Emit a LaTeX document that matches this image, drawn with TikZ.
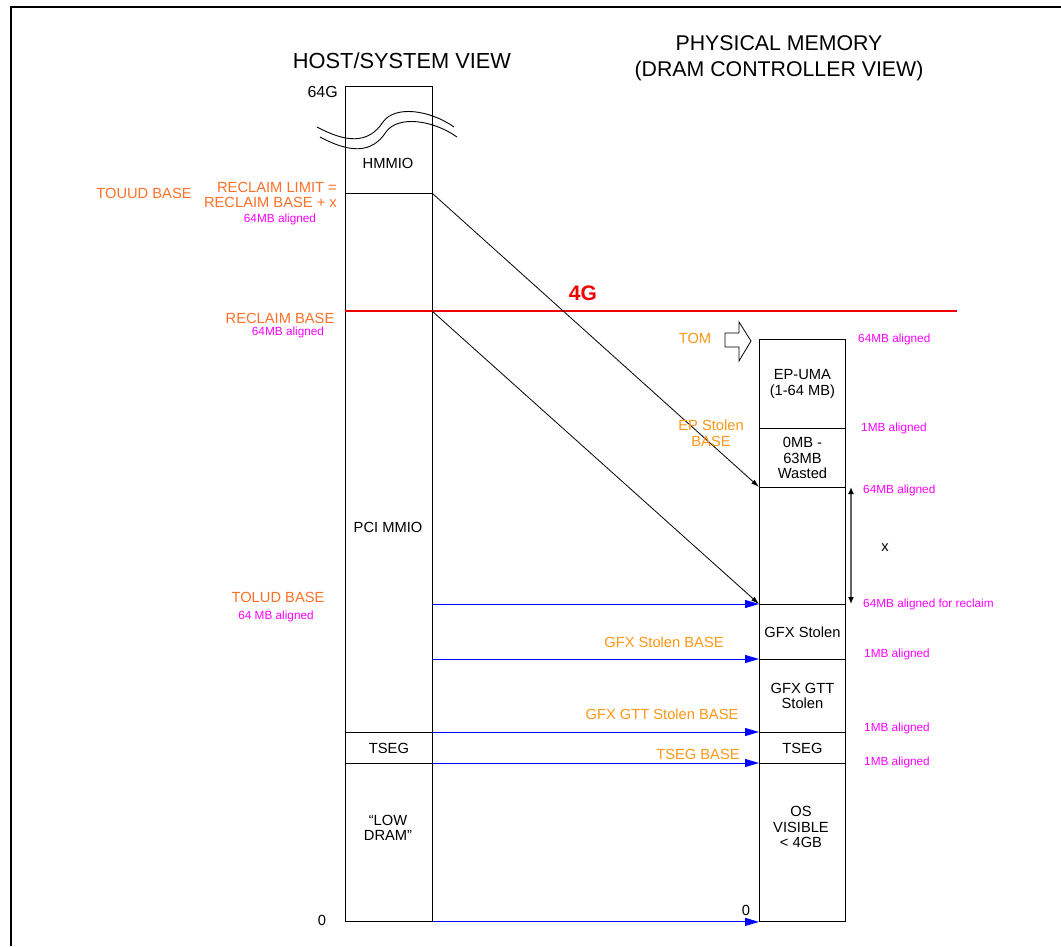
\documentclass[tikz,border=0pt]{standalone}
\usepackage{fontspec}
\setmainfont{Liberation Sans}
\usetikzlibrary{arrows.meta}
\definecolor{orL}{RGB}{255,112,40}
\definecolor{orR}{RGB}{255,150,20}
\definecolor{magc}{RGB}{255,0,255}
\definecolor{bluec}{RGB}{0,0,255}
\definecolor{redc}{RGB}{240,0,0}
\definecolor{grayc}{RGB}{100,100,100}
\begin{document}
\begin{tikzpicture}[x=1pt,y=-1pt,
  sec/.style={draw, line width=0.9, minimum width=#1, inner sep=0, anchor=north west},
  txt/.style={font=\fontsize{14.7}{15.5}\selectfont, inner sep=0, align=center},
  hdr/.style={font=\fontsize{21.3}{26}\selectfont, inner sep=0, align=center},
  orlab/.style={txt, text=orL},
  orrab/.style={txt, text=orR},
  mag/.style={font=\fontsize{11.8}{13}\selectfont, inner sep=0, text=magc},
  bluearr/.style={draw=bluec, line width=0.9, -{Triangle[length=14,width=8,fill=bluec]}},
  blkarr/.style={draw=black, line width=0.8, -{Latex[length=8,width=5]}},
  ]
\useasboundingbox (0,0) rectangle (1061,946);
\draw[line width=2.2] (11,946) -- (11,7) -- (1061,7);

% headers
\node[hdr, font=\fontsize{21.8}{26}\selectfont] (h1) at (402,61) {HOST/SYSTEM VIEW};
\node[hdr] (h2) at (779,58) {PHYSICAL MEMORY\\(DRAM CONTROLLER VIEW)};

% left column
\node[sec=87, minimum height=107] (l1) at (345,86) {};
\node[sec=87, minimum height=539] (l2) at (345,193) {};
\node[sec=87, minimum height=31, txt] (l3) at (345,732) {TSEG};
\node[sec=87, minimum height=158] (l4) at (345,763) {};
\node[txt] (thm) at (388,163) {HMMIO};
\node[txt] (tpci) at (388,527) {PCI MMIO};
\node[txt] (tlow) at (388,828) {“LOW\\DRAM”};
\node[txt, font=\fontsize{16}{17}\selectfont, anchor=east] (t64g) at (338,92) {64G};
\node[txt] (t0l) at (322,920) {0};

% break curves
\draw[line width=0.9] (317,127) .. controls (345,142) and (368,145) .. (383,122)
   .. controls (395,105) and (430,110) .. (454,127);
\draw[line width=0.9] (320,137) .. controls (348,152) and (371,155) .. (386,132)
   .. controls (398,115) and (433,120) .. (457,137);

% right column
\node[sec=86, minimum height=89, txt] (r1) at (759,339) {EP-UMA\\(1-64 MB)};
\node[sec=86, minimum height=59, txt] (r2) at (759,428) {0MB -\\63MB\\Wasted};
\node[sec=86, minimum height=117] (r3) at (759,487) {};
\node[sec=86, minimum height=55, txt] (r4) at (759,604) {GFX Stolen};
\node[sec=86, minimum height=73, txt] (r5) at (759,659) {GFX GTT\\Stolen};
\node[sec=86, minimum height=31, txt] (r6) at (759,732) {TSEG};
\node[sec=86, minimum height=158] (r7) at (759,763) {};
\node[txt] (tos) at (801,827) {OS\\VISIBLE\\< 4GB};

% 4G line
\coordinate (rbl) at (345,311);
\coordinate (rbm) at (432,311);
\coordinate (rbr) at (957,311);
\draw[redc, line width=1.8] (rbl) -- (rbr);
\node[font=\bfseries\fontsize{21}{22}\selectfont, text=redc, inner sep=0] (t4g) at (583,293) {4G};

% diagonal arrows
\draw[blkarr] (l1.south east) -- (r3.north west);
\draw[blkarr] (rbm) -- (r4.north west);

% blue arrows
\draw[bluearr] (l2.east |- r4.north west) -- (r4.north west);
\draw[bluearr] (l2.east |- r5.north west) -- (r5.north west);
\draw[bluearr] (l2.east |- r6.north west) -- (r6.north west);
\draw[bluearr] (l2.east |- r7.north west) -- (r7.north west);
\draw[bluearr] (l4.south east) -- (r7.south west);

% vertical double arrow
\coordinate (va) at (851,487);
\coordinate (vb) at (851,604);
\draw[grayc, line width=1.4, {Latex[length=7,width=6,color=black]}-{Latex[length=7,width=6,color=black]}] (va) -- (vb);
\node[txt] (tx) at (885,548) {x};

% TOM block arrow
\draw[line width=0.8] (725,333) -- (739,333) -- (739,322) -- (751,341) -- (739,361) -- (739,347) -- (725,347) -- cycle;
\node[orrab] (ttom) at (695,338) {TOM};

% left orange labels
\node[orlab] (ttouud) at (144,193) {TOUUD BASE};
\node[orlab, anchor=east, align=right] (trl) at (337,195) {RECLAIM LIMIT =\\RECLAIM BASE + x};
\node[mag] (m1) at (280,219) {64MB aligned};
\node[orlab] (trb) at (280,318) {RECLAIM BASE};
\node[mag] (m2) at (288,332) {64MB aligned};
\node[orlab] (ttolud) at (278,597) {TOLUD BASE};
\node[mag] (m3) at (276,616) {64 MB aligned};

% right orange labels
\node[orrab] (tep) at (711,433) {EP Stolen\\BASE};
\node[orrab] (tgfx) at (664,642) {GFX Stolen BASE};
\node[orrab] (tgtt) at (662,714) {GFX GTT Stolen BASE};
\node[orrab] (ttseg) at (698,754) {TSEG BASE};
\node[txt] (t0r) at (746,910) {0};

% right magenta labels
\node[mag, anchor=west] (n1) at (858,339) {64MB aligned};
\node[mag, anchor=west] (n2) at (861,428) {1MB aligned};
\node[mag, anchor=west] (n3) at (863,490) {64MB aligned};
\node[mag, anchor=west] (n4) at (863,604) {64MB aligned for reclaim};
\node[mag, anchor=west] (n5) at (864,654) {1MB aligned};
\node[mag, anchor=west] (n6) at (864,728) {1MB aligned};
\node[mag, anchor=west] (n7) at (864,762) {1MB aligned};
\end{tikzpicture}
\end{document}
